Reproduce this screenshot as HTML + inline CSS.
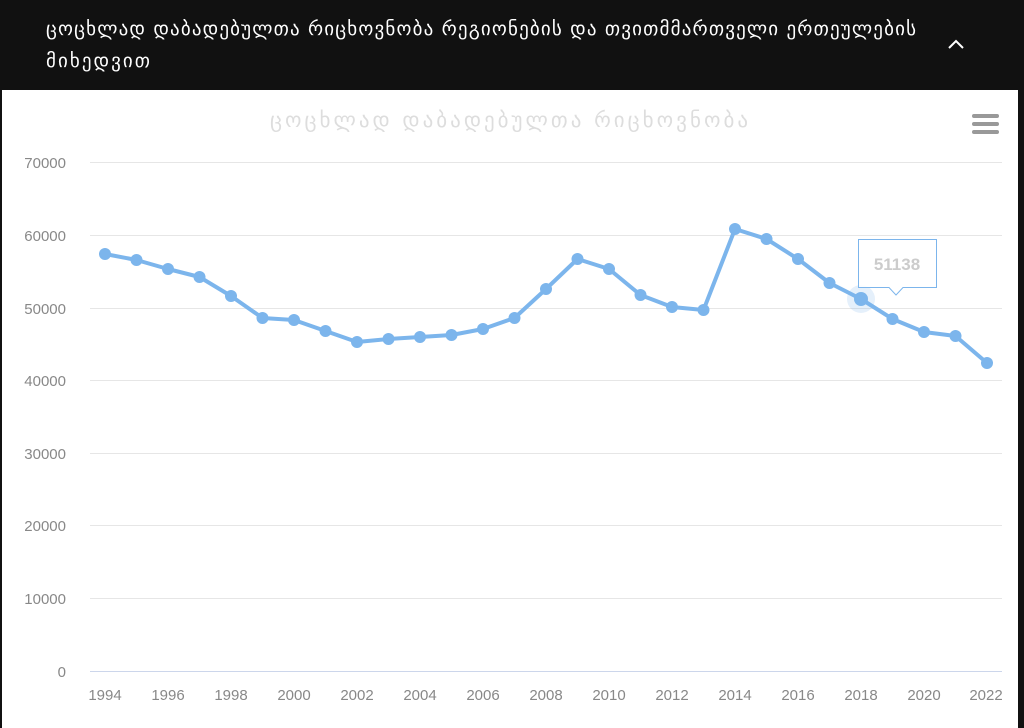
<!DOCTYPE html>
<html><head><meta charset="utf-8"><style>
html,body{margin:0;padding:0;width:1024px;height:728px;overflow:hidden;background:#111;font-family:"Liberation Sans","DejaVu Sans",sans-serif}
.hdr{position:absolute;left:0;top:0;width:1024px;height:90px;background:#111;color:#fff}
.card{position:absolute;left:2px;top:90px;width:1016px;height:638px;background:#fff}
</style></head><body>
<div class="hdr">
<svg style="position:absolute;left:0;top:0" width="1024" height="90" font-family="DejaVu Sans, sans-serif">
<text x="46" y="35" font-size="19" fill="#fff" textLength="870" lengthAdjust="spacing">ცოცხლად დაბადებულთა რიცხოვნობა რეგიონების და თვითმმართველი ერთეულების</text>
<text x="46" y="67" font-size="19" fill="#fff" textLength="104" lengthAdjust="spacing">მიხედვით</text>
<polyline points="949,48 956,41 963,48" fill="none" stroke="#fff" stroke-width="2"/>
</svg></div>
<div class="card"></div>
<svg style="position:absolute;left:0;top:90px" width="1024" height="638" viewBox="0 90 1024 638" font-family="Liberation Sans, DejaVu Sans, sans-serif">
<text x="270" y="127" font-size="21" fill="#ddd" font-family="DejaVu Sans, sans-serif" textLength="478" lengthAdjust="spacing">ცოცხლად დაბადებულთა რიცხოვნობა</text>
<g fill="#999"><rect x="972" y="114" width="27" height="4" rx="2"/><rect x="972" y="122" width="27" height="4" rx="2"/><rect x="972" y="130" width="27" height="4" rx="2"/></g>
<g stroke="#e6e6e6" stroke-width="1">
<line x1="90" x2="1002" y1="162.5" y2="162.5"/><line x1="90" x2="1002" y1="235.5" y2="235.5"/><line x1="90" x2="1002" y1="308.5" y2="308.5"/><line x1="90" x2="1002" y1="380.5" y2="380.5"/><line x1="90" x2="1002" y1="453.5" y2="453.5"/><line x1="90" x2="1002" y1="525.5" y2="525.5"/><line x1="90" x2="1002" y1="598.5" y2="598.5"/></g>
<line x1="90" x2="1002" y1="671.5" y2="671.5" stroke="#ccd6eb"/>
<g font-size="15" fill="#888" text-anchor="end">
<text x="66" y="168">70000</text><text x="66" y="241">60000</text><text x="66" y="314">50000</text><text x="66" y="386">40000</text><text x="66" y="459">30000</text><text x="66" y="531">20000</text><text x="66" y="604">10000</text><text x="66" y="677">0</text></g>
<g font-size="15" fill="#888" text-anchor="middle">
<text x="105" y="700">1994</text><text x="168" y="700">1996</text><text x="231" y="700">1998</text><text x="294" y="700">2000</text><text x="357" y="700">2002</text><text x="420" y="700">2004</text><text x="483" y="700">2006</text><text x="546" y="700">2008</text><text x="609" y="700">2010</text><text x="672" y="700">2012</text><text x="735" y="700">2014</text><text x="798" y="700">2016</text><text x="861" y="700">2018</text><text x="924" y="700">2020</text><text x="986" y="700">2022</text></g>
<circle cx="861" cy="299" r="14" fill="#7cb5ec" opacity="0.2"/>
<polyline fill="none" stroke="#7cb5ec" stroke-width="4" stroke-linejoin="round" points="105,254 136.5,260 168,269 199.5,277 231,296 262.5,318 294,320 325.5,331 357,342 388.5,339 420,337 451.5,335 483,329 514.5,318 546,289 577.5,259 609,269 640.5,295 672,307 703.5,310 735,229 766.5,239 798,259 829.5,283 861,299 892.5,319 924,332 955.5,336 987,363"/>
<g fill="#7cb5ec">
<circle cx="105" cy="254" r="6"/><circle cx="136.5" cy="260" r="6"/><circle cx="168" cy="269" r="6"/><circle cx="199.5" cy="277" r="6"/><circle cx="231" cy="296" r="6"/><circle cx="262.5" cy="318" r="6"/><circle cx="294" cy="320" r="6"/><circle cx="325.5" cy="331" r="6"/><circle cx="357" cy="342" r="6"/><circle cx="388.5" cy="339" r="6"/><circle cx="420" cy="337" r="6"/><circle cx="451.5" cy="335" r="6"/><circle cx="483" cy="329" r="6"/><circle cx="514.5" cy="318" r="6"/><circle cx="546" cy="289" r="6"/><circle cx="577.5" cy="259" r="6"/><circle cx="609" cy="269" r="6"/><circle cx="640.5" cy="295" r="6"/><circle cx="672" cy="307" r="6"/><circle cx="703.5" cy="310" r="6"/><circle cx="735" cy="229" r="6"/><circle cx="766.5" cy="239" r="6"/><circle cx="798" cy="259" r="6"/><circle cx="829.5" cy="283" r="6"/><circle cx="861" cy="299" r="7"/><circle cx="892.5" cy="319" r="6"/><circle cx="924" cy="332" r="6"/><circle cx="955.5" cy="336" r="6"/><circle cx="987" cy="363" r="6"/></g>
<path d="M858.5,239.5 H936.5 V287.5 H903 L896,295 L889,287.5 H858.5 Z" fill="#fff" fill-opacity="0.85" stroke="#7cb5ec" stroke-width="1"/>
<text x="897" y="270" text-anchor="middle" font-size="17" font-weight="bold" fill="#ccc">51138</text>
</svg>
</body></html>
